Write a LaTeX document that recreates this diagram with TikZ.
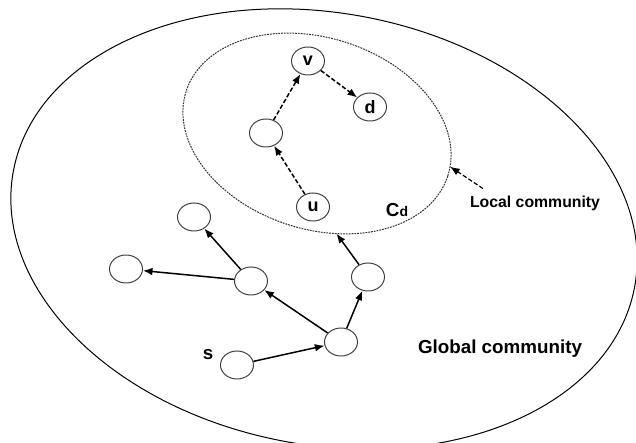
\documentclass[tikz,border=0pt]{standalone}
\usepackage{fontspec}
\setmainfont{Liberation Sans}
\usetikzlibrary{shapes.geometric,arrows.meta}

\begin{document}
\begin{tikzpicture}[x=0.5pt, y=0.5pt,
	vertex/.style={ellipse, draw=black!75, line width=0.5pt, minimum width=16.5pt, minimum height=14pt, inner sep=0pt, font=\bfseries\fontsize{9}{9}\selectfont},
	link/.style={-{Latex[length=4.8pt,width=3.8pt]}, line width=0.75pt},
	hop/.style={link, dash pattern=on 2.2pt off 1.1pt},
	lbl/.style={font=\bfseries\fontsize{9.4}{10}\selectfont}]

	\useasboundingbox (0, 0) rectangle (636, 443);
	\clip (0, 0) rectangle (636, 443);

	% global community
	\draw[line width=0.5pt, rotate around={-10.6:(324, 214)}] (324, 214) ellipse [x radius=316, y radius=216];

	% local community C_d
	\node[ellipse, draw=black!80, line width=0.5pt, dash pattern=on 0.9pt off 0.5pt, minimum width=137.5pt, minimum height=95.6pt, inner sep=0pt, outer sep=0pt, rotate=-18] (local) at (317, 309.5) {};

	\node[vertex] (v) at (308, 382) {v};
	\node[vertex] (d) at (370, 336) {d};
	\node[vertex] (w) at (266, 310) {};
	\node[vertex] (u) at (313, 236) {u};

	\node[vertex] (s) at (237, 78) {};
	\node[vertex] (x1) at (341, 101) {};
	\node[vertex] (x2) at (251, 162) {};
	\node[vertex] (x3) at (194, 226) {};
	\node[vertex] (x4) at (126, 174) {};
	\node[vertex] (x5) at (368, 166) {};

	\node[lbl] (slabel) at (208, 88) {s};
	\node[lbl] (cd) at (397, 233) {C{\fontsize{7}{7}\selectfont d}};
	\node[lbl, font=\bfseries\fontsize{7.9}{9}\selectfont, anchor=west] (lc) at (463, 240) {Local community};
	\node[lbl] (gc) at (500, 94) {Global community};

	\draw[link] (s) -- (x1);
	\draw[link] (x1) -- (x2);
	\draw[link] (x1) -- (x5);
	\draw[link] (x2) -- (x4);
	\draw[link] (x2) -- (x3);
	\draw[link] (x5) -- (local.-61);

	\draw[hop] (u) -- (w);
	\draw[hop] (w) -- (v);
	\draw[hop] (v) -- (d);
	\draw[hop, line width=0.6pt] ([xshift=10pt]lc.north west) -- (local.4);
\end{tikzpicture}
\end{document}
